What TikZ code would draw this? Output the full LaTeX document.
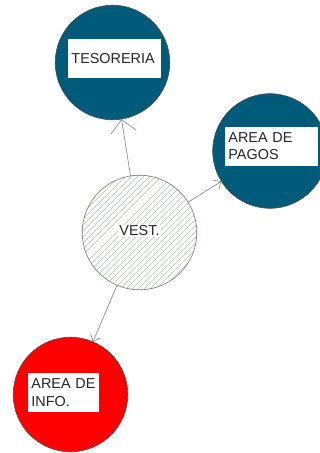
\documentclass[tikz,border=0pt]{standalone}
\usepackage{fontspec}
\setmainfont{Liberation Sans}
\usetikzlibrary{arrows.meta,patterns.meta}
\definecolor{petrol}{RGB}{0,90,122}
\definecolor{hatchgreen}{RGB}{150,190,140}
\definecolor{wire}{RGB}{128,128,128}

\begin{document}
\begin{tikzpicture}[x=0.03cm,y=-0.03cm,
  area/.style={circle,draw=black!70,line width=0.5pt,minimum size=97.8pt,inner sep=0pt,outer sep=0pt},
  tag/.style={fill=white,inner sep=0pt,inner xsep=2.8pt,minimum height=33.2pt,text width=#1,align=left,
    font=\fontsize{12.3}{14.7}\selectfont,text=black!85},
  link/.style={draw=wire,line width=0.5pt,-{Straight Barb[length=5pt,width=9pt]}},
  biglink/.style={draw=wire,line width=0.5pt,-{Straight Barb[length=11pt,width=22pt]}}]
  \useasboundingbox (0,0) rectangle (320,453);
  \node[area,fill=petrol] (tes) at (112.5,62.5) {};
  \node[area,fill=petrol] (pag) at (270,151) {};
  \node[area,fill=red] (inf) at (70.5,394.5) {};
  \node[area,draw=black!55,pattern={Lines[angle=45,distance=4pt,line width=0.6pt]},pattern color=hatchgreen] (ves) at (139.5,232.5) {};
  \node[tag=73.5pt] (teslabel) at (114.5,58.5) {TESORERIA};
  \node[tag=73.5pt] (paglabel) at (271.5,146.5) {AREA DE\\PAGOS};
  \node[tag=54.8pt] (inflabel) at (63.5,392.5) {AREA DE\\INFO.};
  \node[fill=white,inner sep=1pt,font=\fontsize{12.3}{14.7}\selectfont,text=black!85] (veslabel) at (139.5,231) {VEST.};
  \draw[biglink] (ves)--(tes);
  \draw[link] (ves)--(pag);
  \draw[link] (ves)--(inf);
\end{tikzpicture}
\end{document}
